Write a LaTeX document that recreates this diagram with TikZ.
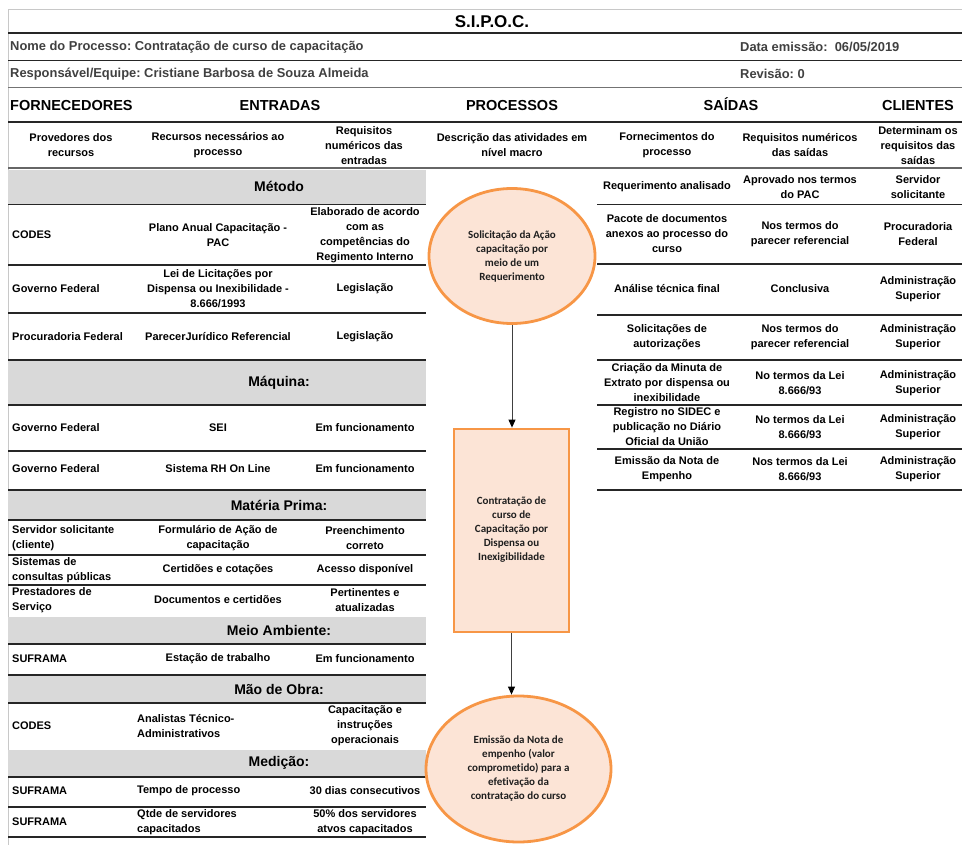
\documentclass[tikz,border=0pt]{standalone}
\usepackage{fontspec}
\setmainfont{Liberation Sans}
\newfontfamily\flowfont[Ligatures=NoCommon]{Carlito}
\usetikzlibrary{shapes.geometric,arrows.meta}
\frenchspacing

\definecolor{bandgray}{RGB}{217,217,217}
\definecolor{rulegray}{RGB}{38,38,38}
\definecolor{softgray}{RGB}{200,200,200}
\definecolor{infogray}{RGB}{64,64,64}
\definecolor{flowline}{RGB}{247,150,70}
\definecolor{flowfill}{RGB}{252,228,214}

% one row of the inputs table: name, y, supplier, input, requirement
\newcommand\sipocInRow[5]{%
  \node[cellw] (#1a) at (12,#2) {#3};
  \node[cellc] (#1b) at (218,#2) {#4};
  \node[cellc] (#1c) at (365,#2) {#5};}
% same, with the input column left-aligned
\newcommand\sipocInRowL[5]{%
  \node[cellw] (#1a) at (12,#2) {#3};
  \node[cellw] (#1b) at (137,#2) {#4};
  \node[cellc] (#1c) at (365,#2) {#5};}
% one row of the outputs table: name, y, output, requirement, client
\newcommand\sipocOutRow[5]{%
  \node[cellc] (#1a) at (667,#2) {#3};
  \node[cellc] (#1b) at (800,#2) {#4};
  \node[cellc] (#1c) at (918,#2) {#5};}

\begin{document}
\begin{tikzpicture}[x=1pt,y=-1pt,
  cellc/.style={inner sep=0pt,align=center,font=\fontsize{11}{15}\selectfont\bfseries},
  cellw/.style={cellc,anchor=west,align=left},
  colhead/.style={inner sep=0pt,anchor=base,font=\fontsize{14.5}{17}\selectfont\bfseries},
  info/.style={inner sep=0pt,anchor=west,text=infogray,font=\fontsize{12.9}{15}\selectfont\bfseries},
  bandlabel/.style={inner sep=0pt,font=\fontsize{14}{17}\selectfont\bfseries},
  rowrule/.style={draw=rulegray,line width=1.3pt},
  lightrule/.style={draw=softgray,line width=1pt},
  flowtext/.style={align=center,inner sep=0pt,text=black!88,font=\flowfont\fontsize{11}{14}\selectfont\bfseries},
  flowshape/.style={draw=flowline,fill=flowfill,line width=2.8pt},
  flowarrow/.style={draw=black!75,line width=0.9pt,-{Triangle[length=8pt,width=7pt,color=black]}}]

\useasboundingbox (0,0) rectangle (962,845);

% ---- frame and heading block ----
\draw[lightrule] (8,10) -- (962,10);
\draw[lightrule] (8,10) -- (8,845);
\node[inner sep=0pt,anchor=base,font=\fontsize{17}{20}\selectfont\bfseries] (title) at (492,27.5) {S.I.P.O.C.};
\draw[draw=rulegray,line width=2pt] (8,33) -- (962,33);
\node[info] (procname) at (10,47) {Nome do Processo: Contratação de curso de capacitação};
\node[info] (issued) at (740,47) {Data emissão:\ \ 06/05/2019};
\draw[rowrule] (8,60.5) -- (962,60.5);
\node[info] (owner) at (10,74) {Responsável/Equipe: Cristiane Barbosa de Souza Almeida};
\node[info] (revision) at (740,74) {Revisão: 0};
\draw[draw=black!55,line width=1.3pt] (8,87.5) -- (962,87.5);

% ---- column headings ----
\node[colhead,anchor=base west] (hsup) at (10,110.5) {FORNECEDORES};
\node[colhead] (hin) at (280,110.5) {ENTRADAS};
\node[colhead] (hproc) at (512,110.5) {PROCESSOS};
\node[colhead] (hout) at (731,110.5) {SAÍDAS};
\node[colhead] (hcli) at (918,110.5) {CLIENTES};
\draw[rowrule] (8,122) -- (962,122);

\node[cellc] (s1) at (71,145) {Provedores dos\\recursos};
\node[cellc] (s2) at (218,145) {Recursos necessários ao\\processo};
\node[cellc] (s3) at (364,146) {Requisitos\\numéricos das\\entradas};
\node[cellc] (s4) at (512,145) {Descrição das atividades em\\nível macro};
\node[cellc] (s5) at (667,145) {Fornecimentos do\\processo};
\node[cellc] (s6) at (800,145) {Requisitos numéricos\\das saídas};
\node[cellc] (s7) at (918,146) {Determinam os\\requisitos das\\saídas};
\draw[draw=black!60,line width=1.3pt] (8,168) -- (962,168);

% ---- inputs table: shaded group bands ----
\fill[bandgray] (8,170) rectangle (426,204);
\fill[bandgray] (8,361) rectangle (426,405);
\fill[bandgray] (8,491) rectangle (426,520);
\fill[bandgray] (8,617) rectangle (426,644);
\fill[bandgray] (8,676) rectangle (426,703);
\fill[bandgray] (8,750) rectangle (426,776);
\node[bandlabel] (bmet) at (279,186) {Método};
\node[bandlabel] (bmaq) at (279,383) {Máquina:};
\node[bandlabel] (bmat) at (279,505) {Matéria Prima:};
\node[bandlabel] (bamb) at (279,630) {Meio Ambiente:};
\node[bandlabel] (bobr) at (279,689) {Mão de Obra:};
\node[bandlabel] (bmed) at (279,763) {Medição:};

% ---- inputs table: rules ----
\foreach \yy in {204.5,265,313,360,405,451,490,520,555,585,644,675,703,777,807,837}
  \draw[rowrule] (8,\yy) -- (426,\yy);

% ---- inputs table: rows ----
\sipocInRow{r1}{235}{CODES}{Plano Anual Capacitação -\\PAC}{Elaborado de acordo\\com as\\competências do\\Regimento Interno}
\sipocInRow{r2}{289}{Governo Federal}{Lei de Licitações por\\Dispensa ou Inexibilidade -\\8.666/1993}{Legislação}
\sipocInRow{r3}{337}{Procuradoria Federal}{ParecerJurídico Referencial}{Legislação}
\sipocInRow{r4}{428}{Governo Federal}{SEI}{Em funcionamento}
\sipocInRow{r5}{469}{Governo Federal}{Sistema RH On Line}{Em funcionamento}
\sipocInRow{r6}{538}{Servidor solicitante\\(cliente)}{Formulário de Ação de\\capacitação}{Preenchimento\\correto}
\sipocInRow{r7}{570}{Sistemas de\\consultas públicas}{Certidões e cotações}{Acesso disponível}
\sipocInRow{r8}{600}{Prestadores de\\Serviço}{Documentos e certidões}{Pertinentes e\\atualizadas}
\sipocInRow{r9}{659}{SUFRAMA}{Estação de trabalho}{Em funcionamento}
\sipocInRowL{r10}{726}{CODES}{Analistas Técnico-\\Administrativos}{Capacitação e\\instruções\\operacionais}
\sipocInRowL{r11}{791}{SUFRAMA}{Tempo de processo}{30 dias consecutivos}
\sipocInRowL{r12}{822}{SUFRAMA}{Qtde de servidores\\capacitados}{50\% dos servidores\\atvos capacitados}

% ---- outputs table ----
\foreach \yy in {204.5,264,315,360,405,449,490}
  \draw[rowrule] (597,\yy) -- (962,\yy);
\sipocOutRow{o1}{187}{Requerimento analisado}{Aprovado nos termos\\do PAC}{Servidor\\solicitante}
\sipocOutRow{o2}{234}{Pacote de documentos\\anexos ao processo do\\curso}{Nos termos do\\parecer referencial}{Procuradoria\\Federal}
\sipocOutRow{o3}{289}{Análise técnica final}{Conclusiva}{Administração\\Superior}
\sipocOutRow{o4}{337}{Solicitações de\\autorizações}{Nos termos do\\parecer referencial}{Administração\\Superior}
\sipocOutRow{o5}{383}{Criação da Minuta de\\Extrato por dispensa ou\\inexibilidade}{No termos da Lei\\8.666/93}{Administração\\Superior}
\sipocOutRow{o6}{427}{Registro no SIDEC e\\publicação no Diário\\Oficial da União}{No termos da Lei\\8.666/93}{Administração\\Superior}
\sipocOutRow{o7}{469}{Emissão da Nota de\\Empenho}{Nos termos da Lei\\8.666/93}{Administração\\Superior}

% ---- process flow ----
\node[flowshape,ellipse,minimum width=166pt,minimum height=135pt,inner sep=0pt] (req) at (512,256) {};
\node[flowtext] (reqtxt) at (512,257) {Solicitação da Ação\\capacitação por\\meio de um\\Requerimento};
\node[flowshape,rectangle,minimum width=115pt,minimum height=203pt,inner sep=0pt] (hire) at (511.5,530.5) {};
\node[flowtext] (hiretxt) at (511.5,530) {Contratação de\\curso de\\Capacitação por\\Dispensa ou\\Inexigibilidade};
\node[flowshape,ellipse,minimum width=185pt,minimum height=146pt,inner sep=0pt] (pay) at (518.5,769) {};
\node[flowtext] (paytxt) at (518.5,769) {Emissão da Nota de\\empenho (valor\\comprometido) para a\\efetivação da\\contratação do curso};

\draw[flowarrow] (req.south) -- (req.south |- hire.north);
\draw[flowarrow] (hire.south) -- (hire.south |- pay.north);

\end{tikzpicture}
\end{document}
